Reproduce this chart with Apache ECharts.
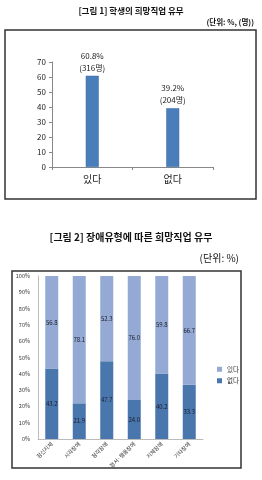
<!DOCTYPE html>
<html><head><meta charset="utf-8">
<script src="https://cdn.jsdelivr.net/npm/echarts@6/dist/echarts.min.js"></script>
<style>html,body{margin:0;padding:0;background:#fff}#c{width:262px;height:480px}</style>
</head><body><div id="c"></div>
<script>
var cats1 = ['있다', '없다'];
var pct1 = [60.8, 39.2];
var cnt1 = [316, 204];
var yTicks1 = [0, 10, 20, 30, 40, 50, 60, 70];

var cats2 = ['정신지체', '시각장애', '청각장애', '정서·행동장애', '지체장애', '기타장애'];
var yes2 = [56.8, 78.1, 52.3, 76.0, 59.8, 66.7];
var no2 = [43.2, 21.9, 47.7, 24.0, 40.2, 33.3];

var F = "'Noto Sans CJK KR', sans-serif";
var chart = echarts.init(document.getElementById('c'), null, {renderer: 'canvas'});
var option = {
  animation: false,
  textStyle: {fontFamily: F},
  graphic: [
    {type: 'text', left: 'center', top: 7, style: {text: '[그림 1] 학생의 희망직업 유무', font: 'bold 8.5px ' + F, fill: '#111'}},
    {type: 'text', right: 8, top: 18, style: {text: '(단위: %, (명))', font: 'bold 7.5px ' + F, fill: '#111'}},
    {type: 'rect', shape: {x: 5, y: 30, width: 251, height: 169}, style: {fill: 'none', stroke: '#333', lineWidth: 1.5}},
    {type: 'text', left: 'center', top: 232, style: {text: '[그림 2] 장애유형에 따른 희망직업 유무', font: 'bold 10px ' + F, fill: '#111'}},
    {type: 'text', right: 23, top: 253, style: {text: '(단위: %)', font: '10px ' + F, fill: '#111'}},
    {type: 'rect', shape: {x: 12, y: 271, width: 229, height: 197}, style: {fill: 'none', stroke: '#333', lineWidth: 1.5}}
  ],
  legend: {
    data: ['있다', '없다'], orient: 'vertical', left: 212, top: 361,
    itemWidth: 5, itemHeight: 5, itemGap: 5, icon: 'rect',
    textStyle: {fontSize: 6.5, color: '#333'}
  },
  grid: [
    {left: 52, right: 49, top: 62, bottom: 313},
    {left: 38, right: 59, top: 276, bottom: 41}
  ],
  xAxis: [
    {type: 'category', gridIndex: 0, data: cats1,
     axisLine: {lineStyle: {color: '#888'}}, axisTick: {show: true, alignWithLabel: false, length: 3, lineStyle: {color: '#888'}},
     axisLabel: {fontSize: 10, color: '#222', margin: 7}},
    {type: 'category', gridIndex: 1, data: cats2,
     axisLine: {lineStyle: {color: '#bbb'}}, axisTick: {show: false},
     axisLabel: {fontSize: 5.5, color: '#333', rotate: 45, margin: 4, interval: 0}}
  ],
  yAxis: [
    {type: 'value', gridIndex: 0, min: 0, max: 70, interval: 10,
     splitLine: {show: false}, axisLine: {show: true, lineStyle: {color: '#888'}},
     axisTick: {show: true, length: 3, lineStyle: {color: '#888'}},
     axisLabel: {fontSize: 8, color: '#222', margin: 6}},
    {type: 'value', gridIndex: 1, min: 0, max: 100, interval: 10,
     splitLine: {show: false}, axisLine: {show: true, lineStyle: {color: '#bbb'}},
     axisTick: {show: false},
     axisLabel: {fontSize: 5.5, color: '#333', margin: 8, formatter: '{value}%'}}
  ],
  series: [
    {type: 'bar', xAxisIndex: 0, yAxisIndex: 0, barWidth: 13,
     data: pct1,
     itemStyle: {color: '#4a7ebb', borderColor: '#3d6aa0', borderWidth: 0.5},
     label: {show: true, position: 'top', distance: 2, fontSize: 8, color: '#222', lineHeight: 12,
       formatter: function (p) { return pct1[p.dataIndex].toFixed(1) + '%\n(' + cnt1[p.dataIndex] + '명)'; }}},
    {name: '없다', type: 'bar', xAxisIndex: 1, yAxisIndex: 1, stack: 's', barWidth: 13,
     data: no2, itemStyle: {color: '#4a76ae'},
     label: {show: true, position: 'inside', fontSize: 6, color: '#1a1a2a', formatter: function (p) { return p.value.toFixed(1); }}},
    {name: '있다', type: 'bar', xAxisIndex: 1, yAxisIndex: 1, stack: 's', barWidth: 13,
     data: yes2, itemStyle: {color: '#94aad4'},
     label: {show: true, position: 'inside', fontSize: 6, color: '#1a1a2a', formatter: function (p) { return p.value.toFixed(1); }}}
  ]
};
chart.setOption(option);
</script></body></html>
